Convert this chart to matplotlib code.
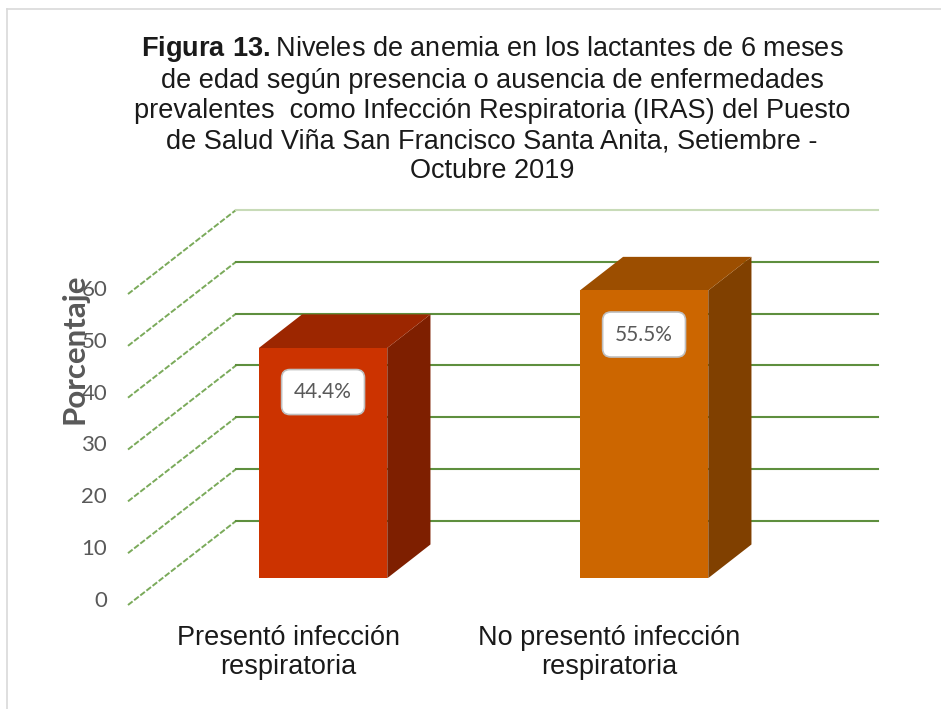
import numpy as np
import matplotlib
matplotlib.use('Agg')
import matplotlib.pyplot as plt
from matplotlib.patches import Polygon
from matplotlib.lines import Line2D

plt.rcParams['font.family'] = ['Liberation Sans', 'DejaVu Sans']
plt.rcParams['mathtext.fontset'] = 'custom'
plt.rcParams['mathtext.bf'] = 'Liberation Sans:bold'
plt.rcParams['mathtext.rm'] = 'Liberation Sans'

# data
categories = ['Presentó infección\nrespiratoria', 'No presentó infección\nrespiratoria']
values = [44.4, 55.5]
labels = ['44.4%', '55.5%']
yticks = [0, 10, 20, 30, 40, 50, 60]

# colours per bar: front, top, side
front_cols = ['#cc3300', '#cc6600']
top_cols = ['#9c2600', '#9c4e00']
side_cols = ['#7e1f00', '#804000']

# fake 3d geometry (in data units)
DX = 108 / 321.0   # depth offset in category units
DY = 84 / 5.18     # depth offset in value units
d0, d1 = 0.32, 0.72  # bar depth span
w = 0.4
ymax = 60

fig = plt.figure(figsize=(9.41, 7.09), dpi=100)
ax = fig.add_axes([128 / 941, 104 / 709, 750 / 941, 395 / 709])
ax.set_xlim(-0.5, 1.5 + DX)
ax.set_ylim(0, ymax + DY)
ax.axis('off')

grid_col = '#5e8f3e'
for v in yticks:
    col = '#c8dbb8' if v == ymax else grid_col
    ax.plot([-0.5, -0.5 + DX], [v, v + DY], color='#7aaa5a', lw=1.4,
            ls=(0, (3, 1)), clip_on=False, zorder=1)
    ax.plot([-0.5 + DX, 1.5 + DX], [v + DY, v + DY], color=col, lw=1.5,
            clip_on=False, zorder=1)
    ax.text(-0.565, v + 0.8, str(v), ha='right', va='center', fontsize=16,
            color='#595959', family=['Lato', 'DejaVu Sans'], clip_on=False)

for i, v in enumerate(values):
    xl, xr = i - w / 2, i + w / 2
    front = [(xl + d0 * DX, d0 * DY), (xr + d0 * DX, d0 * DY),
             (xr + d0 * DX, v + d0 * DY), (xl + d0 * DX, v + d0 * DY)]
    top = [(xl + d0 * DX, v + d0 * DY), (xr + d0 * DX, v + d0 * DY),
           (xr + d1 * DX, v + d1 * DY), (xl + d1 * DX, v + d1 * DY)]
    side = [(xr + d0 * DX, d0 * DY), (xr + d1 * DX, d1 * DY),
            (xr + d1 * DX, v + d1 * DY), (xr + d0 * DX, v + d0 * DY)]
    ax.add_patch(Polygon(side, closed=True, fc=side_cols[i], ec='none', zorder=3))
    ax.add_patch(Polygon(top, closed=True, fc=top_cols[i], ec='none', zorder=3))
    ax.add_patch(Polygon(front, closed=True, fc=front_cols[i], ec='none', zorder=4))
    ax.text(i + d0 * DX, v + d0 * DY - 8.5, labels[i], ha='center', va='center',
            fontsize=15, color='#595959', family=['Lato', 'DejaVu Sans'], zorder=5,
            bbox=dict(boxstyle='round,pad=0.6,rounding_size=0.4', fc='white',
                      ec='#bfbfbf', lw=1.2))
    ax.text(i, -9.2, categories[i], ha='center', va='center', fontsize=19.5,
            color='#1a1a1a', clip_on=False, linespacing=1.12)

ax.text(-0.668, 49.4, 'Porcentaje', rotation=90, ha='center', va='center',
        fontsize=22.5, fontweight='bold', color='#595959',
        family=['Lato', 'DejaVu Sans'], clip_on=False)

title = ('$\\bf{Figura\\ 13.}$Niveles de anemia en los lactantes de 6 meses\n'
         'de edad según presencia o ausencia de enfermedades\n'
         'prevalentes  como Infección Respiratoria (IRAS) del Puesto\n'
         'de Salud Viña San Francisco Santa Anita, Setiembre -\n'
         'Octubre 2019')
fig.text(492 / 941, 1 - 109 / 709, title, ha='center', va='center', fontsize=19.5,
         color='#1a1a1a', linespacing=1.21)

# chart border (top and left)
fig.add_artist(Line2D([7 / 941, 1], [1 - 9 / 709, 1 - 9 / 709], color='#d9d9d9', lw=1.2))
fig.add_artist(Line2D([7 / 941, 7 / 941], [0, 1 - 9 / 709], color='#d9d9d9', lw=1.2))

fig.savefig('out.png', dpi=100)
